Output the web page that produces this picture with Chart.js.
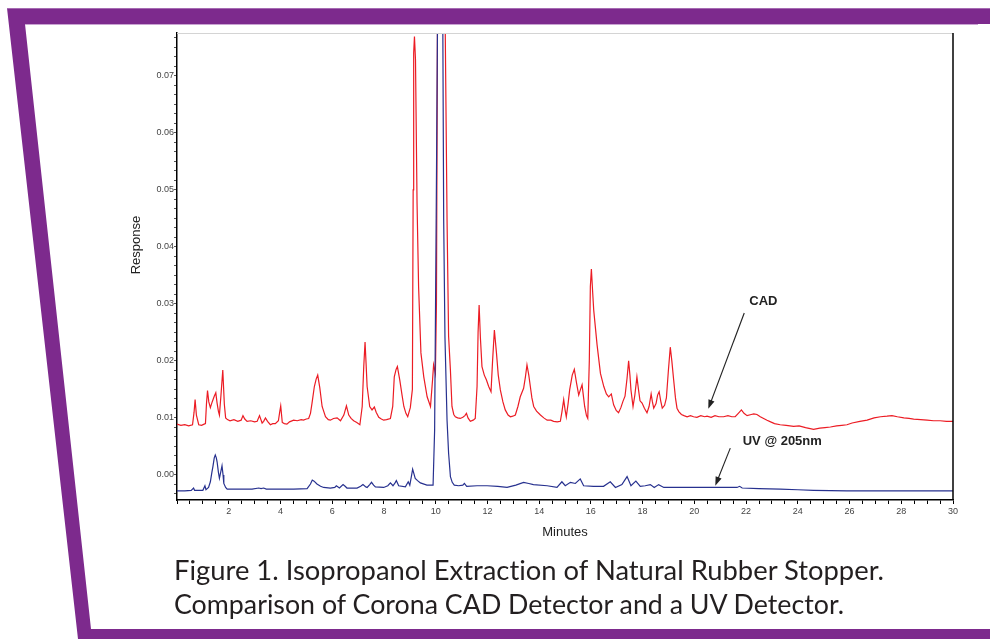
<!DOCTYPE html>
<html>
<head>
<meta charset="utf-8">
<script src="https://cdn.jsdelivr.net/npm/chart.js@4"></script>
<style>
  body { margin: 0; background: #fff; }
  #wrap { position: relative; width: 990px; height: 639px; overflow: hidden; background: #fff; }
  #frame { position: absolute; left: 0; top: 0; }
  #chart { position: absolute; left: 0; top: 0; }
  .caption {
    position: absolute; left: 174px; white-space: nowrap;
    font-family: Lato, "Open Sans", "Liberation Sans", sans-serif;
    font-size: 27px; line-height: 34px; color: #231f20; font-weight: 400;
    font-variant-ligatures: none; font-feature-settings: "liga" 0;
    transform-origin: 0 50%;
  }
</style>
</head>
<body>
<div id="wrap">
  <svg id="frame" width="990" height="639">
    <polygon points="7,8 990,8 990,24 25,24 91,629 990,629 990,639 78,639" fill="#7d2a8d"/>
    <line x1="25" y1="24.5" x2="978" y2="24.5" stroke="#c9a3d2" stroke-width="1"/>
    <line x1="7" y1="8.5" x2="990" y2="8.5" stroke="#a66bb3" stroke-width="1"/>
  </svg>
  <canvas id="chart" width="990" height="639"></canvas>
  <div class="caption" id="cap1" style="top:553px">Figure 1. Isopropanol Extraction of Natural Rubber Stopper.</div>
  <div class="caption" id="cap2" style="top:587px">Comparison of Corona CAD Detector and a UV Detector.</div>
</div>
<script>
// Temps de rétention (min) et réponse du détecteur CAD
const cadTime = [
  0.00, 0.15, 0.30, 0.45, 0.60, 0.66, 0.70, 0.75, 0.84, 0.95,
  1.05, 1.10, 1.14, 1.18, 1.23, 1.29, 1.36, 1.44, 1.50, 1.55,
  1.60, 1.64, 1.70, 1.77, 1.83, 1.88, 1.95, 2.05, 2.20, 2.35,
  2.48, 2.55, 2.62, 2.71, 2.85, 3.00, 3.10, 3.19, 3.29, 3.35,
  3.42, 3.50, 3.61, 3.70, 3.80, 3.92, 3.97, 4.01, 4.07, 4.15,
  4.25, 4.35, 4.51, 4.65, 4.80, 4.89, 5.00, 5.09, 5.16, 5.22,
  5.31, 5.38, 5.44, 5.52, 5.61, 5.74, 5.85, 5.93, 6.05, 6.19,
  6.32, 6.45, 6.55, 6.64, 6.73, 6.83, 6.95, 7.07, 7.16, 7.22,
  7.27, 7.31, 7.35, 7.45, 7.54, 7.63, 7.70, 7.80, 7.90, 7.99,
  8.10, 8.25, 8.34, 8.40, 8.47, 8.52, 8.61, 8.70, 8.77, 8.85,
  8.92, 9.02, 9.10, 9.13, 9.15, 9.18, 9.22, 9.28, 9.34, 9.43,
  9.54, 9.67, 9.80, 9.88, 9.92, 9.99, 10.03, 10.07, 10.20, 10.33,
  10.37, 10.44, 10.50, 10.57, 10.63, 10.70, 10.76, 10.85, 10.95, 11.05,
  11.13, 11.19, 11.25, 11.34, 11.45, 11.53, 11.60, 11.64, 11.68, 11.73,
  11.79, 11.88, 11.96, 12.05, 12.14, 12.20, 12.27, 12.35, 12.42, 12.50,
  12.60, 12.69, 12.80, 12.89, 12.98, 13.08, 13.18, 13.27, 13.40, 13.47,
  13.53, 13.60, 13.66, 13.72, 13.79, 13.90, 14.05, 14.18, 14.31, 14.45,
  14.56, 14.70, 14.82, 14.88, 14.95, 15.00, 15.05, 15.12, 15.18, 15.28,
  15.36, 15.45, 15.53, 15.60, 15.66, 15.72, 15.76, 15.83, 15.88, 15.94,
  15.98, 16.02, 16.07, 16.11, 16.24, 16.37, 16.50, 16.60, 16.69, 16.79,
  16.88, 16.98, 17.07, 17.16, 17.24, 17.32, 17.40, 17.46, 17.51, 17.55,
  17.63, 17.70, 17.78, 17.84, 17.90, 17.98, 18.07, 18.17, 18.25, 18.33,
  18.38, 18.43, 18.52, 18.58, 18.64, 18.70, 18.76, 18.85, 18.92, 19.00,
  19.07, 19.13, 19.20, 19.27, 19.33, 19.40, 19.50, 19.60, 19.72, 19.85,
  19.97, 20.10, 20.25, 20.40, 20.49, 20.65, 20.80, 20.95, 21.13, 21.30,
  21.45, 21.58, 21.70, 21.82, 21.92, 22.04, 22.20, 22.30, 22.42, 22.55,
  22.68, 22.81, 22.95, 23.10, 23.32, 23.55, 23.84, 24.05, 24.30, 24.61,
  24.85, 25.05, 25.26, 25.50, 25.70, 25.90, 26.10, 26.40, 26.68, 26.95,
  27.20, 27.45, 27.64, 27.85, 28.10, 28.30, 28.48, 28.75, 29.00, 29.25,
  29.50, 29.75, 30.00
];
const cadResponse = [
  0.0089, 0.0087, 0.0088, 0.0086, 0.0088, 0.0110, 0.0132, 0.0105, 0.0088, 0.0087,
  0.0089, 0.0090, 0.0125, 0.0148, 0.0128, 0.0118, 0.0128, 0.0138, 0.0144, 0.0126,
  0.0112, 0.0105, 0.0140, 0.0184, 0.0124, 0.0100, 0.0097, 0.0095, 0.0097, 0.0094,
  0.0096, 0.0104, 0.0098, 0.0094, 0.0095, 0.0093, 0.0094, 0.0104, 0.0091, 0.0094,
  0.0100, 0.0094, 0.0088, 0.0090, 0.0090, 0.0095, 0.0110, 0.0121, 0.0092, 0.0090,
  0.0089, 0.0093, 0.0096, 0.0095, 0.0097, 0.0096, 0.0098, 0.0099, 0.0108, 0.0126,
  0.0155, 0.0168, 0.0175, 0.0153, 0.0120, 0.0102, 0.0097, 0.0096, 0.0099, 0.0100,
  0.0095, 0.0105, 0.0121, 0.0105, 0.0099, 0.0095, 0.0092, 0.0088, 0.0120, 0.0190,
  0.0233, 0.0195, 0.0155, 0.0120, 0.0114, 0.0119, 0.0110, 0.0101, 0.0098, 0.0096,
  0.0097, 0.0099, 0.0120, 0.0172, 0.0185, 0.0190, 0.0167, 0.0140, 0.0120, 0.0108,
  0.0102, 0.0118, 0.0150, 0.0500, 0.0740, 0.0769, 0.0728, 0.0477, 0.0330, 0.0214,
  0.0172, 0.0137, 0.0120, 0.0167, 0.0193, 0.0178, 0.0300, 0.0800, 0.1500, 0.1000,
  0.0780, 0.0447, 0.0243, 0.0184, 0.0120, 0.0106, 0.0102, 0.0100, 0.0099, 0.0101,
  0.0104, 0.0108, 0.0100, 0.0094, 0.0096, 0.0099, 0.0155, 0.0250, 0.0298, 0.0240,
  0.0190, 0.0175, 0.0167, 0.0155, 0.0146, 0.0200, 0.0254, 0.0214, 0.0175, 0.0149,
  0.0128, 0.0114, 0.0105, 0.0102, 0.0103, 0.0105, 0.0120, 0.0137, 0.0152, 0.0172,
  0.0193, 0.0175, 0.0155, 0.0135, 0.0120, 0.0112, 0.0105, 0.0100, 0.0096, 0.0096,
  0.0094, 0.0093, 0.0094, 0.0110, 0.0132, 0.0115, 0.0102, 0.0125, 0.0149, 0.0175,
  0.0185, 0.0160, 0.0140, 0.0150, 0.0158, 0.0135, 0.0120, 0.0104, 0.0099, 0.0200,
  0.0330, 0.0361, 0.0320, 0.0289, 0.0228, 0.0178, 0.0155, 0.0142, 0.0137, 0.0142,
  0.0123, 0.0113, 0.0109, 0.0118, 0.0129, 0.0138, 0.0170, 0.0200, 0.0175, 0.0149,
  0.0120, 0.0140, 0.0172, 0.0150, 0.0130, 0.0126, 0.0117, 0.0109, 0.0120, 0.0142,
  0.0128, 0.0117, 0.0125, 0.0140, 0.0146, 0.0130, 0.0117, 0.0122, 0.0135, 0.0185,
  0.0224, 0.0200, 0.0167, 0.0135, 0.0117, 0.0111, 0.0106, 0.0104, 0.0102, 0.0104,
  0.0102, 0.0101, 0.0104, 0.0102, 0.0103, 0.0101, 0.0104, 0.0102, 0.0102, 0.0104,
  0.0102, 0.0102, 0.0108, 0.0114, 0.0108, 0.0104, 0.0106, 0.0107, 0.0106, 0.0102,
  0.0099, 0.0096, 0.0093, 0.0090, 0.0088, 0.0087, 0.0085, 0.0086, 0.0083, 0.0080,
  0.0082, 0.0083, 0.0084, 0.0086, 0.0087, 0.0088, 0.0091, 0.0094, 0.0096, 0.0100,
  0.0102, 0.0103, 0.0104, 0.0102, 0.0100, 0.0099, 0.0098, 0.0097, 0.0096, 0.0095,
  0.0095, 0.0094, 0.0094
];

// Détecteur UV @ 205nm
const uvTime = [
  0.00, 0.30, 0.55, 0.64, 0.68, 1.00, 1.08, 1.12, 1.22, 1.29,
  1.35, 1.39, 1.44, 1.48, 1.52, 1.55, 1.60, 1.64, 1.69, 1.74,
  1.78, 1.81, 1.88, 1.94, 2.30, 2.58, 2.90, 3.16, 3.25, 3.35,
  3.45, 3.61, 4.00, 4.51, 5.03, 5.16, 5.23, 5.30, 5.41, 5.55,
  5.67, 5.93, 6.10, 6.16, 6.28, 6.42, 6.50, 6.57, 6.96, 7.10,
  7.19, 7.30, 7.35, 7.45, 7.52, 7.60, 7.67, 7.99, 8.15, 8.25,
  8.35, 8.43, 8.48, 8.57, 8.83, 8.94, 9.00, 9.06, 9.11, 9.21,
  9.30, 9.41, 9.66, 9.90, 9.96, 10.02, 10.08, 10.18, 10.27, 10.31,
  10.36, 10.44, 10.50, 10.57, 10.64, 10.72, 10.89, 11.05, 11.11, 11.20,
  11.60, 11.99, 12.40, 12.76, 13.10, 13.40, 13.60, 13.78, 14.31, 14.69,
  14.88, 15.01, 15.21, 15.40, 15.59, 15.72, 16.10, 16.49, 16.75, 16.95,
  17.20, 17.40, 17.55, 17.74, 17.91, 18.10, 18.30, 18.45, 18.62, 18.82,
  19.46, 20.49, 21.65, 21.75, 21.85, 22.50, 23.32, 24.00, 24.61, 25.90,
  27.00, 28.00, 30.00
];
const uvResponse = [
  -0.0028, -0.0028, -0.0027, -0.0023, -0.0027, -0.0027, -0.0019, -0.0026, -0.0022, -0.0012,
  0.0005, 0.0015, 0.0030, 0.0035, 0.0030, 0.0023, 0.0005, -0.0006, 0.0005, 0.0016,
  0.0000, -0.0015, -0.0022, -0.0025, -0.0025, -0.0025, -0.0025, -0.0023, -0.0024, -0.0023,
  -0.0025, -0.0025, -0.0025, -0.0025, -0.0024, -0.0016, -0.0009, -0.0011, -0.0016, -0.0020,
  -0.0022, -0.0023, -0.0022, -0.0019, -0.0023, -0.0017, -0.0020, -0.0023, -0.0023, -0.0020,
  -0.0017, -0.0021, -0.0022, -0.0017, -0.0013, -0.0018, -0.0021, -0.0022, -0.0019, -0.0014,
  -0.0019, -0.0014, -0.0010, -0.0019, -0.0021, -0.0012, -0.0018, -0.0003, 0.0010, -0.0006,
  -0.0010, -0.0014, -0.0018, -0.0018, 0.0079, 0.0450, 0.0850, 0.1300, 0.0850, 0.0447,
  0.0240, 0.0096, 0.0038, -0.0003, -0.0013, -0.0018, -0.0019, -0.0018, -0.0015, -0.0020,
  -0.0019, -0.0019, -0.0020, -0.0022, -0.0018, -0.0013, -0.0015, -0.0017, -0.0019, -0.0022,
  -0.0012, -0.0019, -0.0013, -0.0015, -0.0007, -0.0019, -0.0020, -0.0020, -0.0012, -0.0022,
  -0.0017, -0.0003, -0.0019, -0.0011, -0.0020, -0.0019, -0.0017, -0.0022, -0.0017, -0.0022,
  -0.0022, -0.0022, -0.0022, -0.0020, -0.0023, -0.0024, -0.0025, -0.0026, -0.0027, -0.0028,
  -0.0028, -0.0028, -0.0028
];

// Axes
const xMin = 0, xMax = 30, xMinorStep = 0.5;
const yMin = -0.0044, yMax = 0.0775;
const yMajorStep = 0.01, yMinorPerMajor = 6;

// Annotations (en coordonnées des données)
const notes = [
  { text: 'CAD', tx: 22.67, ty: 0.0304, from: [21.93, 0.0284], to: [20.54, 0.0116] },
  { text: 'UV @ 205nm', tx: 23.40, ty: 0.0058, from: [21.39, 0.0047], to: [20.81, -0.0019] }
];

function toPoints(xs, ys) {
  return xs.map((x, i) => ({ x: x, y: ys[i] }));
}

const AXIS_FONT = '"Liberation Sans", Arial, sans-serif';

const decorPlugin = {
  id: 'decor',
  afterDraw(chart) {
    const ctx = chart.ctx;
    const a = chart.chartArea;
    const xs = chart.scales.x, ys = chart.scales.y;
    ctx.save();
    // bord haut (gris clair) et bord droit (noir)
    ctx.strokeStyle = '#d4d4d4';
    ctx.lineWidth = 1;
    ctx.beginPath();
    ctx.moveTo(a.left, a.top + 0.5);
    ctx.lineTo(a.right, a.top + 0.5);
    ctx.stroke();
    ctx.strokeStyle = '#000';
    ctx.lineWidth = 1.5;
    ctx.beginPath();
    ctx.moveTo(a.right, a.top);
    ctx.lineTo(a.right, a.bottom);
    ctx.stroke();

    // titre de l'axe Y
    ctx.fillStyle = '#222';
    ctx.font = '13px ' + AXIS_FONT;
    ctx.textAlign = 'center';
    ctx.textBaseline = 'middle';
    ctx.translate(136, 245);
    ctx.rotate(-Math.PI / 2);
    ctx.fillText('Response', 0, 0);
    ctx.restore();

    // flèches + étiquettes
    ctx.save();
    notes.forEach(n => {
      const x1 = xs.getPixelForValue(n.from[0]), y1 = ys.getPixelForValue(n.from[1]);
      const x2 = xs.getPixelForValue(n.to[0]), y2 = ys.getPixelForValue(n.to[1]);
      const ang = Math.atan2(y2 - y1, x2 - x1);
      const head = 9, half = 3.2;
      ctx.strokeStyle = '#222';
      ctx.fillStyle = '#222';
      ctx.lineWidth = 1.1;
      ctx.beginPath();
      ctx.moveTo(x1, y1);
      ctx.lineTo(x2 - Math.cos(ang) * head * 0.8, y2 - Math.sin(ang) * head * 0.8);
      ctx.stroke();
      ctx.beginPath();
      ctx.moveTo(x2, y2);
      ctx.lineTo(x2 - Math.cos(ang) * head + Math.sin(ang) * half, y2 - Math.sin(ang) * head - Math.cos(ang) * half);
      ctx.lineTo(x2 - Math.cos(ang) * head - Math.sin(ang) * half, y2 - Math.sin(ang) * head + Math.cos(ang) * half);
      ctx.closePath();
      ctx.fill();
      ctx.font = 'bold 13px ' + AXIS_FONT;
      ctx.textAlign = 'center';
      ctx.textBaseline = 'middle';
      ctx.fillText(n.text, xs.getPixelForValue(n.tx), ys.getPixelForValue(n.ty));
    });
    ctx.restore();
  }
};

const ctx = document.getElementById('chart').getContext('2d');
new Chart(ctx, {
  type: 'line',
  data: {
    datasets: [
      {
        label: 'UV @ 205nm',
        data: toPoints(uvTime, uvResponse),
        borderColor: '#27318f',
        borderWidth: 1.2,
        pointRadius: 0,
        tension: 0,
        fill: false
      },
      {
        label: 'CAD',
        data: toPoints(cadTime, cadResponse),
        borderColor: '#ec1c24',
        borderWidth: 1.2,
        pointRadius: 0,
        tension: 0,
        fill: false
      }
    ]
  },
  options: {
    responsive: false,
    animation: false,
    events: [],
    layout: { padding: { left: 0, top: 33, right: 37, bottom: 99 } },
    plugins: {
      legend: { display: false },
      tooltip: { enabled: false }
    },
    scales: {
      x: {
        type: 'linear',
        min: xMin,
        max: xMax,
        afterFit(scale) { scale.height = 40; },
        afterBuildTicks(scale) {
          const t = [];
          for (let i = 0; i <= (xMax - xMin) / xMinorStep; i++) t.push({ value: xMin + i * xMinorStep });
          scale.ticks = t;
        },
        grid: { drawOnChartArea: false, drawTicks: true, tickLength: 4, color: '#000', tickWidth: 1 },
        border: { color: '#000', width: 1.5 },
        ticks: {
          autoSkip: false,
          maxRotation: 0,
          padding: 2,
          color: '#444',
          font: { size: 9, family: AXIS_FONT },
          callback(v) { return (v > 0 && Math.abs(v % 2) < 1e-9) ? String(v) : ''; }
        },
        title: {
          display: true,
          text: 'Minutes',
          color: '#222',
          font: { size: 13, family: AXIS_FONT },
          padding: { top: 4, bottom: 0 }
        }
      },
      y: {
        type: 'linear',
        min: yMin,
        max: yMax,
        afterFit(scale) { scale.width = 177; },
        afterBuildTicks(scale) {
          const step = yMajorStep / yMinorPerMajor;
          const t = [];
          for (let i = Math.ceil(yMin / step); i * step <= yMax; i++) t.push({ value: i * step, major: i % yMinorPerMajor === 0 });
          scale.ticks = t;
        },
        grid: { drawOnChartArea: false, drawTicks: true, tickLength: 3, color: '#555', tickWidth: 1 },
        border: { color: '#000', width: 1.5 },
        ticks: {
          autoSkip: false,
          padding: 0,
          color: '#444',
          font: { size: 9, family: AXIS_FONT },
          callback(v) {
            const r = v / yMajorStep;
            return Math.abs(r - Math.round(r)) < 1e-6 ? Math.abs(v).toFixed(2) : '';
          }
        }
      }
    }
  },
  plugins: [decorPlugin]
});

// ajuste la largeur de la légende de la figure
function fitCaption(id, width) {
  const el = document.getElementById(id);
  const w = el.getBoundingClientRect().width;
  if (w > 0) el.style.transform = 'scaleX(' + (width / w) + ')';
}
fitCaption('cap1', 710);
fitCaption('cap2', 670);
</script>
</body>
</html>
